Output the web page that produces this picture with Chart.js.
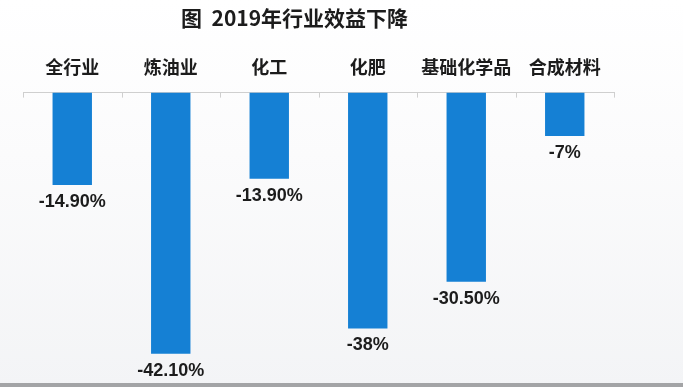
<!doctype html>
<html lang="zh">
 <head>
  <meta charset="utf-8">
  <style>
html, body { margin: 0; padding: 0; }
body {
  width: 683px; height: 387px; overflow: hidden; position: relative;
  background: linear-gradient(#ffffff 0%, #fbfbfc 40%, #f3f4f6 100%);
}
#wrap { position: absolute; left: 0; top: 0; width: 683px; height: 387px; }
/* grey strip along the bottom of the slide */
#strip { position: absolute; left: 0; bottom: 0; width: 683px; height: 4px; background: #a3a4a6; }
  </style>
  <title>2019年行业效益下降</title>
 </head>
 <body>
  <div id="wrap"><canvas id="chart"></canvas></div>
  <div id="strip"></div>

  <script src="https://cdn.jsdelivr.net/npm/chart.js@4.4.1/dist/chart.umd.min.js"></script>
  <script>
var chartTitle = '图  2019年行业效益下降';
var categories = ['全行业', '炼油业', '化工', '化肥', '基础化学品', '合成材料'];
var values = [-14.9, -42.1, -13.9, -38, -30.5, -7];
var valueLabels = ['-14.90%', '-42.10%', '-13.90%', '-38%', '-30.50%', '-7%'];

var cjk = '"Noto Sans CJK SC", "Noto Sans", sans-serif';
var latin = '"Liberation Sans", Arial, sans-serif';

// value text under the end of each bar
const barLabels = {
  id: 'barLabels',
  afterDatasetsDraw(chart) {
    const ctx = chart.ctx;
    const meta = chart.getDatasetMeta(0);
    ctx.save();
    ctx.font = 'bold 18px ' + latin;
    ctx.fillStyle = '#1c1c1c';
    ctx.textAlign = 'center';
    ctx.textBaseline = 'top';
    meta.data.forEach(function(bar, i) {
      ctx.fillText(valueLabels[i], bar.x, bar.y + 8);
    });
    ctx.restore();
  }
};

// title sits a bit left of the plot centre on the slide, so draw it ourselves
const slideTitle = {
  id: 'slideTitle',
  afterDraw(chart) {
    const ctx = chart.ctx;
    const x = chart.scales.x;
    ctx.save();
    ctx.font = 'bold 21px ' + cjk;
    ctx.fillStyle = '#1c1c1c';
    ctx.textAlign = 'center';
    ctx.textBaseline = 'middle';
    ctx.fillText(chartTitle, (x.left + x.right) / 2 - 24, 18);
    ctx.restore();
  }
};

// small ticks hanging down from the axis line at category boundaries
const boundaryTicks = {
  id: 'boundaryTicks',
  afterDraw(chart) {
    const ctx = chart.ctx;
    const x = chart.scales.x;
    const top = chart.chartArea.top;
    const step = (x.right - x.left) / categories.length;
    ctx.save();
    ctx.strokeStyle = '#cfcfcf';
    ctx.lineWidth = 1;
    for (let i = 0; i <= categories.length; i++) {
      const px = Math.round(x.left + i * step) + 0.5;
      ctx.beginPath();
      ctx.moveTo(px, top);
      ctx.lineTo(px, top + 5);
      ctx.stroke();
    }
    ctx.restore();
  }
};

const chart = new Chart(document.getElementById('chart'), {
  type: 'bar',
  data: {
    labels: categories,
    datasets: [{
      data: values,
      backgroundColor: '#1580d4',
      borderWidth: 0,
      categoryPercentage: 1,
      barPercentage: 0.4
    }]
  },
  options: {
    animation: false,
    responsive: true,
    maintainAspectRatio: false,
    layout: { padding: { left: 23, right: 69, top: 41, bottom: 4 } },
    scales: {
      x: {
        position: 'top',
        grid: { display: true, drawOnChartArea: false, drawTicks: false },
        border: { display: true, color: '#cfcfcf', width: 1 },
        ticks: {
          padding: 15,
          autoSkip: false,
          maxRotation: 0,
          color: '#1c1c1c',
          font: { family: cjk, size: 18, weight: 'bold' }
        }
      },
      y: {
        display: false,
        min: -46.8,
        max: 0
      }
    },
    plugins: {
      legend: { display: false },
      tooltip: { enabled: false },
      title: { display: false }
    }
  },
  plugins: [barLabels, slideTitle, boundaryTicks]
});
  </script>
 </body>
</html>
